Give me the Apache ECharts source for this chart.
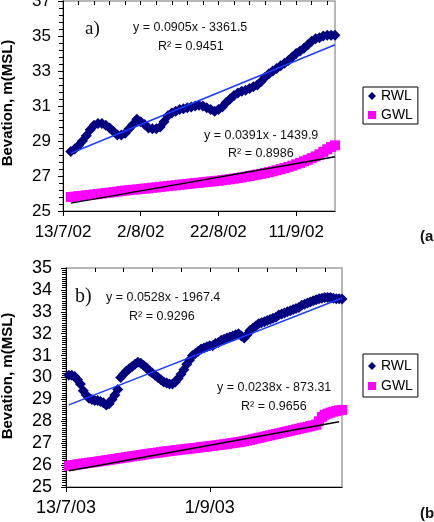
<!DOCTYPE html>
<html>
<head>
<meta charset="utf-8">
<script src="https://cdn.jsdelivr.net/npm/echarts@6/dist/echarts.min.js"></script>
<style>
  html, body { margin: 0; padding: 0; background: #fff; }
  #main { width: 434px; height: 522px; }
</style>
</head>
<body>
<div id="main"></div>
<script>
// x values are days counted from 13/7 of each year
const labelsA = ['13/7/02', '2/8/02', '22/8/02', '11/9/02'];
const labelsB = ['13/7/03', '1/9/03'];

// (a) 2002, daily values from day 2 to day 70
const startA = 2;
const rwlA = [28.4, 28.55, 28.75, 29.0, 29.3, 29.65, 29.9, 30.0, 30.0, 29.9,
  29.75, 29.55, 29.35, 29.35, 29.45, 29.7, 29.95, 30.25, 30.1, 29.95,
  29.75, 29.7, 29.7, 29.8, 30.1, 30.45, 30.6, 30.7, 30.8, 30.85,
  30.9, 30.95, 31.0, 31.05, 31.0, 30.9, 30.8, 30.7, 30.8, 30.95,
  31.2, 31.4, 31.6, 31.75, 31.85, 31.9, 32.0, 32.1, 32.2, 32.4,
  32.65, 32.85, 33.0, 33.15, 33.3, 33.45, 33.6, 33.8, 34.0, 34.15,
  34.3, 34.5, 34.7, 34.85, 34.9, 35.0, 35.05, 35.05, 35.05];
const gwlA = [25.8, 25.82, 25.85, 25.87, 25.9, 25.92, 25.95, 25.97, 26.0, 26.03,
  26.05, 26.08, 26.11, 26.14, 26.17, 26.19, 26.21, 26.23, 26.26, 26.28,
  26.3, 26.33, 26.35, 26.38, 26.4, 26.42, 26.45, 26.47, 26.5, 26.52,
  26.54, 26.57, 26.59, 26.61, 26.64, 26.66, 26.69, 26.71, 26.73, 26.76,
  26.79, 26.82, 26.85, 26.88, 26.92, 26.96, 27.0, 27.04, 27.08, 27.12,
  27.17, 27.22, 27.27, 27.33, 27.39, 27.45, 27.52, 27.59, 27.67, 27.75,
  27.84, 27.93, 28.02, 28.12, 28.24, 28.38, 28.53, 28.66, 28.75];
const trendRwlA = [[2, 28.3], [70, 34.5]];
const trendGwlA = [[2, 25.45], [70, 28.1]];

// (b) 2003, daily values from day 1 to day 96
const startB = 1;
const rwlB = [30.1, 30.1, 30.05, 29.9, 29.7, 29.4, 29.2, 29.05, 29.0, 28.95,
  28.95, 28.9, 28.85, 28.75, 28.8, 29.0, 29.2, 29.45, 30.0, 30.15,
  30.3, 30.4, 30.5, 30.6, 30.7, 30.65, 30.55, 30.45, 30.3, 30.2,
  30.1, 30.0, 29.9, 29.8, 29.75, 29.7, 29.7, 29.8, 29.95, 30.15,
  30.35, 30.6, 30.8, 31.0, 31.1, 31.2, 31.3, 31.35, 31.4, 31.45,
  31.45, 31.55, 31.6, 31.7, 31.75, 31.8, 31.85, 31.9, 31.95, 32.0,
  31.9, 31.8, 31.95, 32.15, 32.25, 32.35, 32.45, 32.5, 32.55, 32.6,
  32.65, 32.7, 32.75, 32.85, 32.9, 32.95, 33.0, 33.05, 33.1, 33.15,
  33.2, 33.3, 33.35, 33.4, 33.45, 33.5, 33.55, 33.6, 33.62, 33.65,
  33.65, 33.65, 33.62, 33.6, 33.6, 33.58];
const gwlB = [25.97, 25.99, 26.01, 26.03, 26.05, 26.07, 26.09, 26.11, 26.12, 26.14,
  26.16, 26.18, 26.2, 26.22, 26.24, 26.26, 26.28, 26.3, 26.32, 26.34,
  26.36, 26.38, 26.4, 26.42, 26.44, 26.46, 26.48, 26.5, 26.52, 26.54,
  26.55, 26.57, 26.59, 26.61, 26.63, 26.64, 26.66, 26.68, 26.69, 26.71,
  26.72, 26.74, 26.75, 26.77, 26.78, 26.8, 26.82, 26.83, 26.85, 26.87,
  26.88, 26.9, 26.92, 26.93, 26.95, 26.97, 26.99, 27.01, 27.03, 27.05,
  27.07, 27.09, 27.12, 27.15, 27.18, 27.21, 27.24, 27.27, 27.3, 27.33,
  27.36, 27.39, 27.42, 27.45, 27.48, 27.51, 27.54, 27.57, 27.6, 27.63,
  27.66, 27.69, 27.72, 27.75, 27.78, 27.81, 27.85, 28.0, 28.2, 28.3,
  28.35, 28.4, 28.44, 28.47, 28.5, 28.52];
const trendRwlB = [[1, 28.75], [96, 33.63]];
const trendGwlB = [[1, 25.74], [95, 27.98]];

const FONT = "'Liberation Sans', Arial, sans-serif";
const RWL_COLOR = '#000080';
const GWL_COLOR = '#ff00ff';

function pairs(start, arr) {
  return arr.map((v, i) => [start + i, v]);
}
function steps(min, max, step) {
  const out = [];
  for (let v = min; v <= max + 1e-9; v += step) out.push(+v.toFixed(4));
  return out;
}

const chart = echarts.init(document.getElementById('main'), null, {renderer: 'canvas'});

function mainX(grid, max, major, labels, size, margin) {
  return {
    type: 'value', gridIndex: grid, min: 0, max: max,
    axisLine: {lineStyle: {color: '#000', width: 1}},
    axisTick: {length: 5, lineStyle: {color: '#000'}, customValues: steps(0, max, major).filter(v => v < max)},
    axisLabel: {
      customValues: labels.map((l, i) => i * major),
      formatter: v => labels[Math.round(v / major)] || '',
      fontFamily: FONT, fontSize: size, color: '#000', margin: margin
    },
    splitLine: {show: false}
  };
}
function minorX(grid, max, minor) {
  return {
    type: 'value', gridIndex: grid, min: 0, max: max,
    axisLine: {show: false},
    axisTick: {inside: true, length: 4, lineStyle: {color: '#000'}, customValues: steps(0, max, minor).filter(v => v < max)},
    axisLabel: {show: false},
    splitLine: {show: false}
  };
}
function mainY(grid, min, max, major, size, margin) {
  return {
    type: 'value', gridIndex: grid, min: min, max: max, interval: major,
    axisLine: {show: true, lineStyle: {color: '#000', width: 1}},
    axisTick: {show: true, length: 5, lineStyle: {color: '#000'}},
    axisLabel: {fontFamily: FONT, fontSize: size, color: '#000', margin: margin},
    splitLine: {show: false}
  };
}
function minorY(grid, min, max, minor) {
  return {
    type: 'value', gridIndex: grid, min: min, max: max,
    axisLine: {show: false},
    axisTick: {show: true, inside: true, length: 4, lineStyle: {color: '#000'}, customValues: steps(min, max, minor)},
    axisLabel: {show: false},
    splitLine: {show: false}
  };
}

function markers(name, data, xi, yi) {
  const isR = name === 'RWL';
  return {
    name: name, type: 'scatter', xAxisIndex: xi, yAxisIndex: yi,
    data: data,
    symbol: isR ? 'diamond' : 'rect',
    symbolSize: isR ? 11 : 10,
    itemStyle: {color: isR ? RWL_COLOR : GWL_COLOR, opacity: 1},
    emphasis: {disabled: true},
    z: 2
  };
}
function trend(name, data, color, xi, yi) {
  return {
    name: name, type: 'line', xAxisIndex: xi, yAxisIndex: yi,
    data: data, showSymbol: false, symbol: 'none',
    lineStyle: {color: color, width: 1.5},
    emphasis: {disabled: true},
    z: 3
  };
}

function txt(x, y, text, font) {
  return {
    type: 'text', x: x, y: y, silent: true,
    style: {text: text, font: font, fill: '#111', align: 'left', verticalAlign: 'middle'}
  };
}
function yTitle(y) {
  return {
    type: 'text', x: 8, y: y, rotation: Math.PI / 2, silent: true,
    style: {text: 'Bevation, m(MSL)', font: 'bold 15px ' + FONT, fill: '#000', align: 'center', verticalAlign: 'middle'}
  };
}
const eqFont = "12.5px " + FONT;

const legendBase = {
  orient: 'vertical', data: ['RWL', 'GWL'],
  itemWidth: 8, itemHeight: 8,
  borderColor: '#000', borderWidth: 1, borderRadius: 0,
  textStyle: {fontFamily: FONT, fontSize: 14, color: '#000'}
};

const option = {
  animation: false,
  backgroundColor: '#fff',
  grid: [
    {left: 63, top: 1, width: 272, height: 210, outerBoundsMode: 'none', containLabel: false,
      show: true, borderColor: '#a0a0a0', borderWidth: 1.5, backgroundColor: '#fff'},
    {left: 66, top: 268, width: 276, height: 219, outerBoundsMode: 'none', containLabel: false,
      show: true, borderColor: '#a0a0a0', borderWidth: 1.5, backgroundColor: '#fff'}
  ],
  xAxis: [
    mainX(0, 70, 20, labelsA, 17, 13),
    minorX(0, 70, 4),
    mainX(1, 96, 50, labelsB, 18, 12),
    minorX(1, 96, 10)
  ],
  yAxis: [
    mainY(0, 25, 37, 2, 17, 12),
    minorY(0, 25, 37, 0.4),
    mainY(1, 25, 35, 1, 18, 14),
    minorY(1, 25, 35, 0.1)
  ],
  legend: [
    Object.assign({left: 363, top: 87, itemGap: 5, padding: [2, 5, 2, 5]}, legendBase),
    Object.assign({left: 363, top: 354, itemGap: 6, padding: [5, 5, 4, 5]}, legendBase)
  ],
  series: [
    markers('RWL', pairs(startA, rwlA), 0, 0),
    markers('GWL', pairs(startA, gwlA), 0, 0),
    trend('RWL trend a', trendRwlA, '#1a3cff', 0, 0),
    trend('GWL trend a', trendGwlA, '#000', 0, 0),
    markers('RWL', pairs(startB, rwlB), 2, 2),
    markers('GWL', pairs(startB, gwlB), 2, 2),
    trend('RWL trend b', trendRwlB, '#1a3cff', 2, 2),
    trend('GWL trend b', trendGwlB, '#000', 2, 2)
  ],
  graphic: [
    yTitle(103),
    yTitle(376),
    txt(85, 29, 'a)', "19px 'Liberation Serif', 'Times New Roman', serif"),
    txt(133, 28, 'y = 0.0905x - 3361.5', eqFont),
    txt(158, 47, 'R\u00b2 = 0.9451', eqFont),
    txt(204, 136, 'y = 0.0391x - 1439.9', eqFont),
    txt(228, 154, 'R\u00b2 = 0.8986', eqFont),
    txt(420, 237, '(a', 'bold 15px ' + FONT),
    txt(75, 297, 'b)', "20px 'Liberation Serif', 'Times New Roman', serif"),
    txt(106, 298, 'y = 0.0528x - 1967.4', eqFont),
    txt(129, 317, 'R\u00b2 = 0.9296', eqFont),
    txt(217, 388, 'y = 0.0238x - 873.31', eqFont),
    txt(241, 407, 'R\u00b2 = 0.9656', eqFont),
    txt(420, 514, '(b', 'bold 15px ' + FONT)
  ]
};

chart.setOption(option);
</script>
</body>
</html>
